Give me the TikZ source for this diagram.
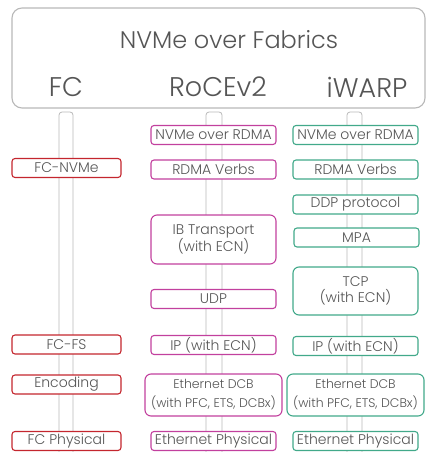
\documentclass[tikz,border=0pt]{standalone}
\usepackage{fontspec}
\setmainfont{Poppins}[UprightFont={* Light}]
\usepackage{tikz}

\definecolor{fcred}{HTML}{C4262E}
\definecolor{rocepink}{HTML}{C2409E}
\definecolor{iwteal}{HTML}{42A98A}
\definecolor{tubegray}{HTML}{B8B8B8}
\definecolor{txtgray}{HTML}{555555}

\begin{document}
\begin{tikzpicture}[
      x=1pt, y=-1pt,
      layer/.style={
        draw,
        fill=white,
        rounded corners=3pt,
        line width=1.1pt,
        inner sep=0pt,
        minimum height=19pt,
        text=txtgray,
        font=\fontsize{14}{16}\selectfont,
        align=center
      },
      fclayer/.style={layer, draw=fcred, minimum width=109pt},
      rocelayer/.style={layer, draw=rocepink, minimum width=125pt},
      iwlayer/.style={layer, draw=iwteal, minimum width=125pt},
      tube/.style={draw=tubegray, line width=0.8pt, rounded corners=3pt},
      title/.style={text=txtgray, inner sep=0pt, font=\fontsize{27}{29}\selectfont}
    ]
      \useasboundingbox (0,0) rectangle (427,452);

      % header
      \node (fabrics) at (218.5,58) [draw=tubegray, line width=1.1pt, rounded corners=10pt,
        minimum width=413pt, minimum height=100pt]{};
      \node (nof) at (229,40) [title, font=\fontsize{24}{26}\selectfont]{NVMe over Fabrics};
      \node (fc) at (66,87) [title]{FC};
      \node (roce) at (218,87) [title]{RoCEv2};
      \node (iwarp) at (367,87) [title]{iWARP};

      % tubes
      \draw[tube] (59,112) rectangle (73,470);
      \draw[tube] (206,112) rectangle (222,470);
      \draw[tube] (347,112) rectangle (362,470);

      % FC
      \node (f1) at (66.5,168) [fclayer]{FC-NVMe};
      \node (f2) at (66.5,344.5) [fclayer]{FC-FS};
      \node (f3) at (66.5,384.5) [fclayer]{Encoding};
      \node (f4) at (66.5,441) [fclayer]{FC Physical};

      % RoCEv2
      \node (r1) at (213.5,135) [rocelayer]{NVMe over RDMA};
      \node (r2) at (213.5,169.5) [rocelayer]{RDMA Verbs};
      \node (r3) at (213.5,239.5) [rocelayer, minimum height=49pt, rounded corners=6pt]{IB Transport\\(with ECN)};
      \node (r4) at (213.5,299) [rocelayer]{UDP};
      \node (r5) at (213.5,345) [rocelayer]{IP (with ECN)};
      \node (r6) at (213.5,395) [rocelayer, minimum width=137pt, minimum height=42pt, rounded corners=6pt,
        font=\fontsize{12.5}{19}\selectfont]{Ethernet DCB\\(with PFC, ETS, DCBx)};
      \node (r7) at (213.5,441) [rocelayer]{Ethernet Physical};

      % iWARP
      \node (i1) at (355.5,135) [iwlayer]{NVMe over RDMA};
      \node (i2) at (355.5,169.5) [iwlayer]{RDMA Verbs};
      \node (i3) at (355.5,204.5) [iwlayer]{DDP protocol};
      \node (i4) at (356.5,237.5) [iwlayer]{MPA};
      \node (i5) at (355.5,291) [iwlayer, minimum height=48pt, rounded corners=6pt]{TCP\\(with ECN)};
      \node (i6) at (355.5,346) [iwlayer]{IP (with ECN)};
      \node (i7) at (355.5,395) [iwlayer, minimum width=137pt, minimum height=42pt, rounded corners=6pt,
        font=\fontsize{12.5}{19}\selectfont]{Ethernet DCB\\(with PFC, ETS, DCBx)};
      \node (i8) at (355.5,441) [iwlayer]{Ethernet Physical};

    \end{tikzpicture}
\end{document}
